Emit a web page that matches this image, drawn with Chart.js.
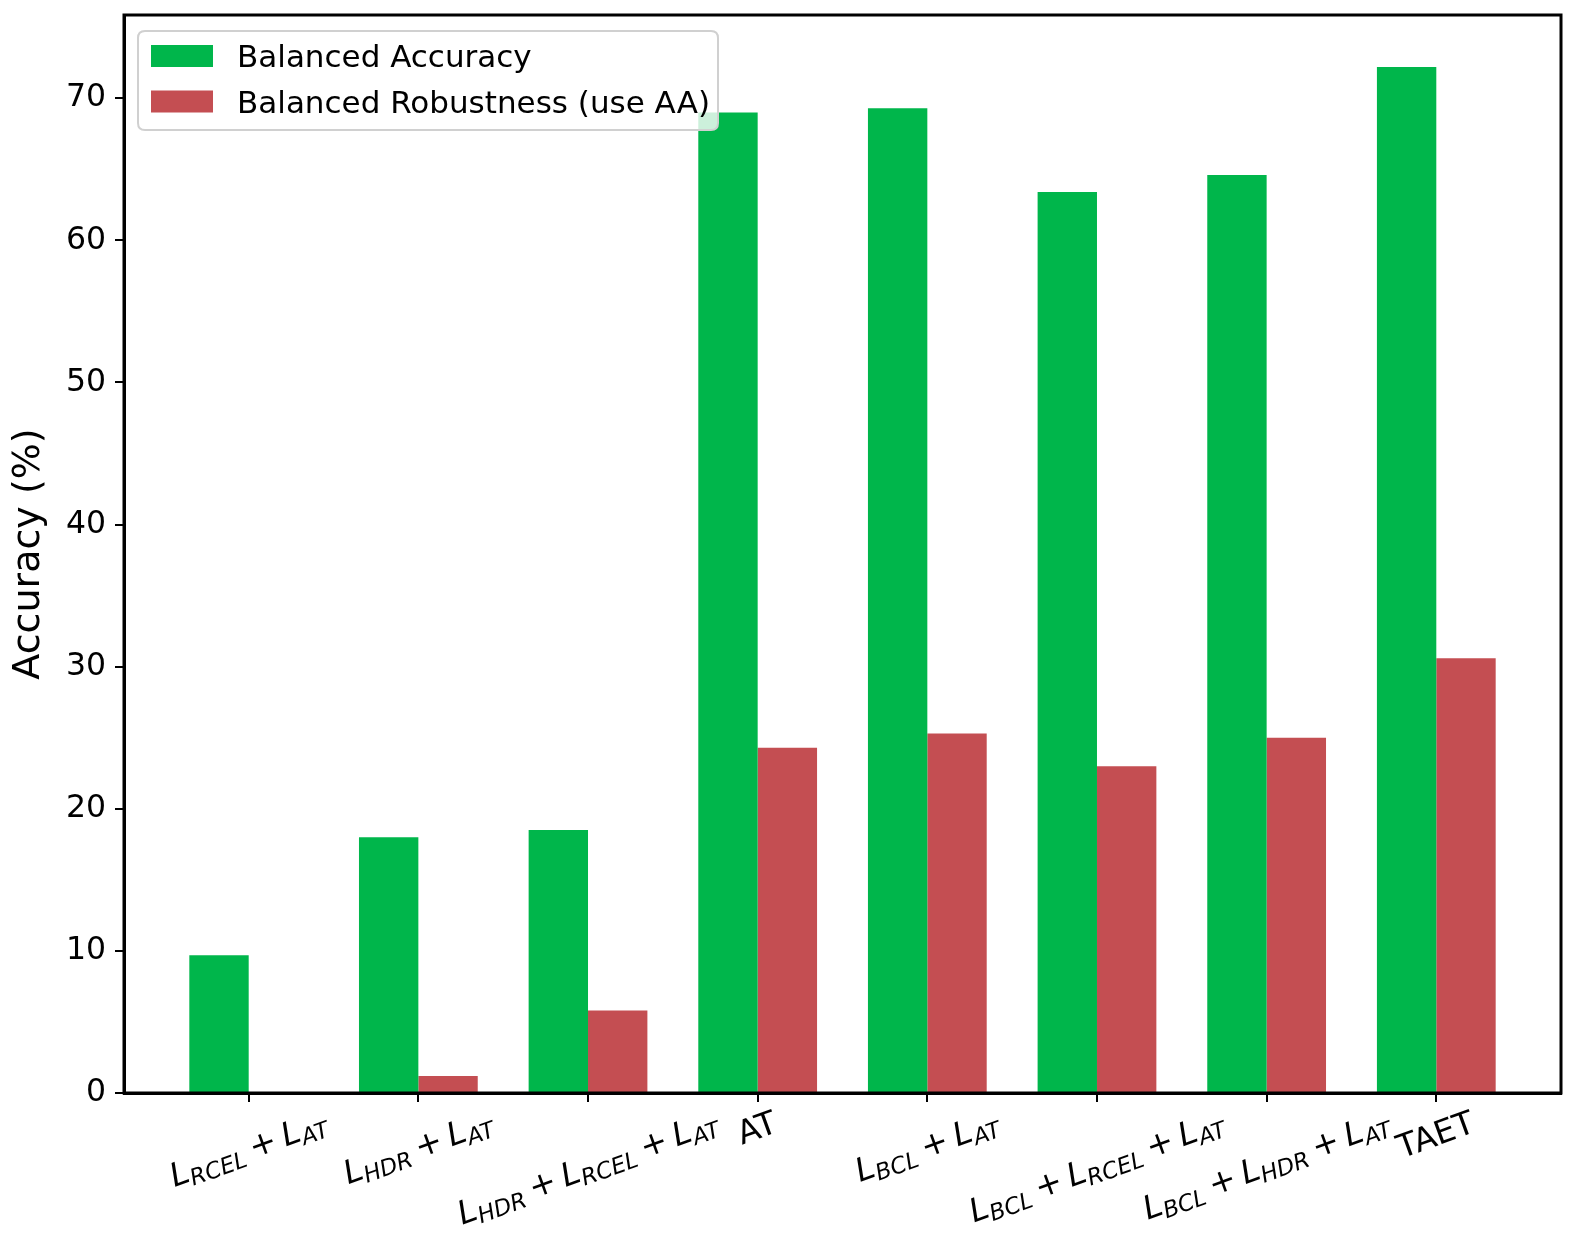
<!DOCTYPE html>
<html>
<head>
<meta charset="utf-8">
<script src="https://cdn.jsdelivr.net/npm/chart.js@4.4.0/dist/chart.umd.min.js"></script>
<style>
  html, body { margin: 0; padding: 0; background: #ffffff; }
  #wrap { width: 1578px; height: 1252px; }
</style>
</head>
<body>
<div id="wrap"><canvas id="c" width="1578" height="1252"></canvas></div>
<script>
// ---- data ----
const categories = [
  'L_{RCEL} + L_{AT}',
  'L_{HDR} + L_{AT}',
  'L_{HDR} + L_{RCEL} + L_{AT}',
  'AT',
  'L_{BCL} + L_{AT}',
  'L_{BCL} + L_{RCEL} + L_{AT}',
  'L_{BCL} + L_{HDR} + L_{AT}',
  'TAET'
];
const seriesNames = ['Balanced Accuracy', 'Balanced Robustness (use AA)'];
const balancedAccuracy = [9.7, 18.0, 18.5, 69.0, 69.3, 63.4, 64.6, 72.2];
const balancedRobustness = [0.0, 1.2, 5.8, 24.3, 25.3, 23.0, 25.0, 30.6];
const yTicks = [0, 10, 20, 30, 40, 50, 60, 70];
const yTitle = 'Accuracy (%)';

const GREEN = '#00b64b';
const RED = '#c44e52';
const FONT = 'DejaVu Sans';

// ---- plugins ----
const framePlugin = {
  id: 'frame',
  afterDatasetsDraw(chart) {
    const a = chart.chartArea, c = chart.ctx;
    c.save();
    c.strokeStyle = '#000';
    c.lineWidth = 3;
    c.strokeRect(a.left, a.top, a.right - a.left, a.bottom - a.top);
    c.restore();
  }
};

function parseLabel(s) {
  const parts = s.split(' + ');
  const isMath = parts.some(p => /_\{/.test(p));
  const segs = [];
  parts.forEach((p, i) => {
    if (i > 0) segs.push({ text: '+', op: true });
    const m = p.match(/^(\w)_\{(\w+)\}$/);
    if (m) {
      segs.push({ text: m[1], italic: true, scale: 1, dy: 0 });
      segs.push({ text: m[2], italic: true, scale: 0.7, dy: 0.16 });
    } else {
      segs.push({ text: p, italic: false, scale: 1, dy: 0 });
    }
  });
  return { segs, isMath };
}

const xLabelPlugin = {
  id: 'xlabels',
  afterDraw(chart) {
    const c = chart.ctx;
    const xs = chart.scales.x;
    const fs = 32.5;
    const theta = 20 * Math.PI / 180;
    const yTop = chart.chartArea.bottom + 9 + 6;
    c.save();
    c.fillStyle = '#000';
    categories.forEach((lab, i) => {
      const { segs, isMath } = parseLabel(lab);
      let w = 0;
      const laid = segs.map(sg => {
        const size = fs * (sg.scale || 1);
        const font = (sg.italic ? 'italic ' : '') + size + 'px "' + FONT + '"';
        c.font = font;
        const adv = c.measureText(sg.text).width;
        let pre = 0, post = 0;
        if (sg.op) { pre = 0.22 * fs; post = 0.22 * fs; }
        const item = { font, text: sg.text, x: w + pre, dy: (sg.dy || 0) * fs };
        w += pre + adv + post;
        return item;
      });
      const t = isMath ? 0.75 * fs : 0.76 * fs;
      const b = isMath ? 0.2 * fs : 0.24 * fs;
      const sn = Math.sin(theta), cs = Math.cos(theta);
      const minx = -t * sn, maxx = w * cs + b * sn;
      const topUp = w * sn + t * cs;
      const px = xs.getPixelForValue(i);
      const ox = px - (minx + maxx) / 2;
      const oy = yTop + topUp;
      c.save();
      c.translate(ox, oy);
      c.rotate(-theta);
      c.textBaseline = 'alphabetic';
      c.textAlign = 'left';
      laid.forEach(it => {
        c.font = it.font;
        c.fillText(it.text, it.x, it.dy);
      });
      c.restore();
    });
    c.restore();
  }
};

const legendPlugin = {
  id: 'boxlegend',
  afterDraw(chart) {
    const c = chart.ctx;
    const x0 = 138, y0 = 31, x1 = 718, y1 = 130, r = 7;
    c.save();
    c.beginPath();
    c.moveTo(x0 + r, y0);
    c.lineTo(x1 - r, y0); c.quadraticCurveTo(x1, y0, x1, y0 + r);
    c.lineTo(x1, y1 - r); c.quadraticCurveTo(x1, y1, x1 - r, y1);
    c.lineTo(x0 + r, y1); c.quadraticCurveTo(x0, y1, x0, y1 - r);
    c.lineTo(x0, y0 + r); c.quadraticCurveTo(x0, y0, x0 + r, y0);
    c.closePath();
    c.fillStyle = 'rgba(255,255,255,0.8)';
    c.fill();
    c.strokeStyle = '#d0d0d0';
    c.lineWidth = 2;
    c.stroke();
    const rows = [56, 101.5];
    chart.data.datasets.forEach((ds, i) => {
      const cy = rows[i];
      c.fillStyle = ds.backgroundColor;
      c.fillRect(151, cy - 11, 62, 22);
      c.fillStyle = '#000';
      c.font = '31px "' + FONT + '"';
      c.textBaseline = 'middle';
      c.textAlign = 'left';
      c.fillText(ds.label, 237, cy + 3);
    });
    c.restore();
  }
};

function zeroPad(s) { s.paddingTop = 0; s.paddingBottom = 0; s.paddingLeft = 0; s.paddingRight = 0; }

// ---- chart ----
const ctx = document.getElementById('c').getContext('2d');
new Chart(ctx, {
  type: 'bar',
  data: {
    datasets: [
      { label: seriesNames[0], data: balancedAccuracy.map((v, i) => ({ x: i, y: v })), backgroundColor: GREEN, borderWidth: 0 },
      { label: seriesNames[1], data: balancedRobustness.map((v, i) => ({ x: i, y: v })), backgroundColor: RED, borderWidth: 0 }
    ]
  },
  options: {
    responsive: false,
    animation: false,
    devicePixelRatio: 1,
    layout: { padding: { top: 15, right: 17, left: 0, bottom: 0 } },
    datasets: { bar: { categoryPercentage: 0.7, barPercentage: 1.0 } },
    plugins: { legend: { display: false }, tooltip: { enabled: false } },
    scales: {
      x: {
        type: 'linear',
        min: -0.735,
        max: 7.735,
        offset: false,
        grid: { offset: false, drawOnChartArea: false, drawTicks: true, tickLength: 9, color: '#000', lineWidth: 2 },
        border: { display: true, color: '#000', width: 3 },
        ticks: { display: true, autoSkip: false, callback: () => '', font: { size: 10 } },
        afterBuildTicks: s => { s.ticks = categories.map((c, i) => ({ value: i })); },
        afterFit: s => { s.height = 159; zeroPad(s); }
      },
      y: {
        type: 'linear',
        min: 0,
        max: 75.86,
        grid: { drawOnChartArea: false, drawTicks: true, tickLength: 9, color: '#000', lineWidth: 2 },
        border: { display: true, color: '#000', width: 3 },
        ticks: { color: '#000', font: { family: FONT, size: 31.5 }, padding: 9 },
        afterBuildTicks: s => { s.ticks = yTicks.map(v => ({ value: v })); },
        title: { display: true, text: yTitle, color: '#000', font: { family: FONT, size: 38 }, padding: { top: 6, bottom: 0 } },
        afterFit: s => { s.width = 124; zeroPad(s); }
      }
    }
  },
  plugins: [framePlugin, xLabelPlugin, legendPlugin]
});
</script>
</body>
</html>
